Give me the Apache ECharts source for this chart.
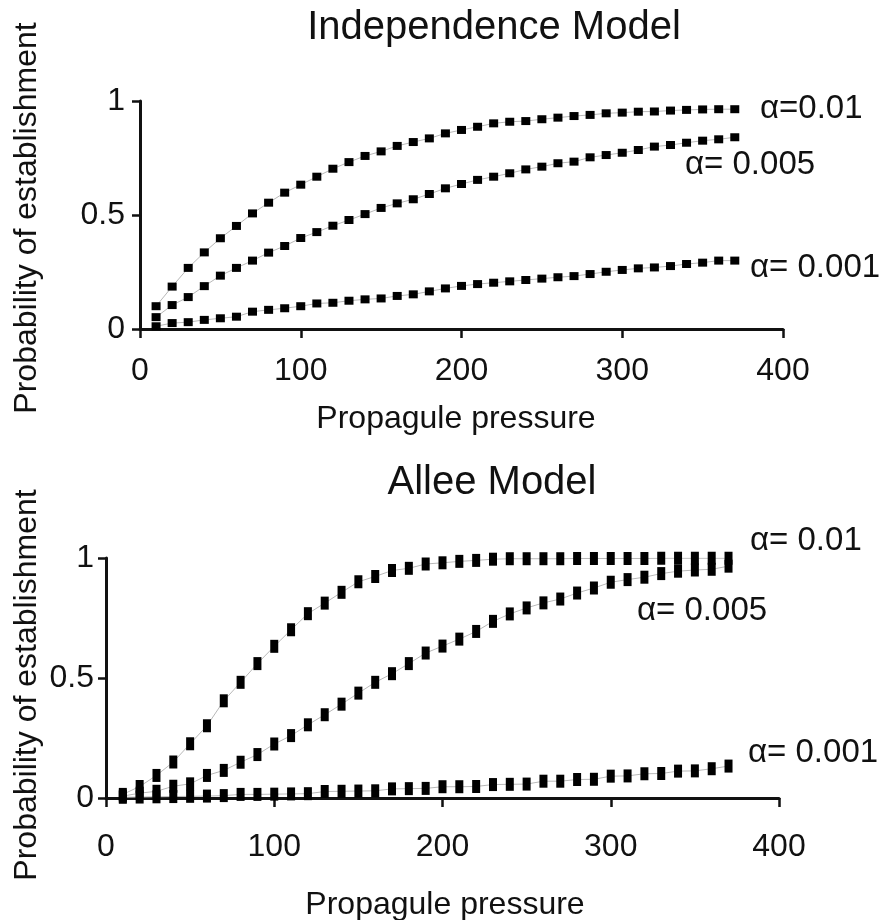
<!DOCTYPE html>
<html>
<head>
<meta charset="utf-8">
<script src="https://cdn.jsdelivr.net/npm/echarts@6/dist/echarts.min.js"></script>
<style>
  html, body { margin: 0; padding: 0; background: #fff; }
  #chart { width: 884px; height: 920px; }
</style>
</head>
<body>
<div id="chart"></div>
<script>
// propagule pressure (x) shared by every series
const pressure = [10, 20, 30, 40, 50, 60, 70, 80, 90, 100, 110, 120, 130, 140, 150, 160, 170, 180, 190,
  200, 210, 220, 230, 240, 250, 260, 270, 280, 290, 300, 310, 320, 330, 340, 350, 360, 370]

// Independence model
const indep01 = [0.10, 0.186, 0.268, 0.336, 0.398, 0.452, 0.507, 0.554, 0.598, 0.633, 0.668, 0.703, 0.732,
  0.759, 0.779, 0.803, 0.82, 0.836, 0.858, 0.873, 0.887, 0.902, 0.909, 0.912, 0.92, 0.927, 0.934, 0.939,
  0.946, 0.949, 0.953, 0.954, 0.958, 0.961, 0.963, 0.964, 0.964]
const indep005 = [0.052, 0.105, 0.14, 0.188, 0.234, 0.268, 0.30, 0.335, 0.364, 0.399, 0.425, 0.453, 0.478,
  0.504, 0.531, 0.551, 0.569, 0.592, 0.617, 0.636, 0.654, 0.668, 0.683, 0.70, 0.712, 0.727, 0.734, 0.753,
  0.763, 0.773, 0.785, 0.80, 0.807, 0.817, 0.826, 0.832, 0.841]
const indep001 = [0.012, 0.026, 0.03, 0.04, 0.047, 0.054, 0.076, 0.084, 0.091, 0.10, 0.112, 0.115, 0.124,
  0.13, 0.134, 0.145, 0.152, 0.165, 0.178, 0.189, 0.197, 0.203, 0.209, 0.215, 0.221, 0.227, 0.232, 0.241,
  0.251, 0.259, 0.266, 0.27, 0.276, 0.285, 0.291, 0.30, 0.30]

// Allee model
const allee01 = [0.015, 0.048, 0.094, 0.15, 0.226, 0.301, 0.405, 0.482, 0.56, 0.632, 0.701, 0.768, 0.812,
  0.857, 0.901, 0.923, 0.948, 0.957, 0.975, 0.98, 0.986, 0.99, 0.995, 0.997, 0.997, 0.997, 0.997, 0.998,
  0.998, 0.998, 0.998, 0.998, 0.999, 0.999, 0.999, 0.999, 0.999]
const allee005 = [0.008, 0.02, 0.028, 0.049, 0.059, 0.094, 0.115, 0.149, 0.181, 0.225, 0.26, 0.305, 0.347,
  0.391, 0.437, 0.482, 0.518, 0.56, 0.604, 0.633, 0.662, 0.694, 0.736, 0.767, 0.792, 0.813, 0.829, 0.854,
  0.875, 0.899, 0.91, 0.92, 0.935, 0.945, 0.95, 0.953, 0.966]
const allee001 = [0.003, 0.004, 0.005, 0.006, 0.007, 0.008, 0.01, 0.015, 0.015, 0.016, 0.017, 0.018, 0.027,
  0.028, 0.029, 0.03, 0.038, 0.039, 0.04, 0.047, 0.047, 0.048, 0.056, 0.057, 0.058, 0.07, 0.07, 0.077,
  0.078, 0.091, 0.092, 0.101, 0.102, 0.112, 0.113, 0.122, 0.133]

const xTicks = { min: 0, max: 400, interval: 100 }
const yTicks = { min: 0, max: 1, interval: 0.5 }

const FONT = '"Liberation Sans", Arial, Helvetica, sans-serif'
const INK = '#111'

const pairs = (ys) => pressure.map((x, i) => [x, ys[i]])

function xAxisOf(gridIndex, margin) {
  return {
    type: 'value',
    gridIndex,
    ...xTicks,
    axisLine: { onZero: false, lineStyle: { color: INK, width: 3 } },
    axisTick: { length: 9, lineStyle: { color: INK, width: 2.5 } },
    axisLabel: { margin, fontSize: 32, fontFamily: FONT, color: INK },
    splitLine: { show: false },
  }
}

function yAxisOf(gridIndex, margin) {
  return {
    type: 'value',
    gridIndex,
    ...yTicks,
    axisLine: { show: true, onZero: false, lineStyle: { color: INK, width: 3 } },
    axisTick: { show: true, length: 8, lineStyle: { color: INK, width: 2.5 } },
    axisLabel: { margin, fontSize: 32, fontFamily: FONT, color: INK },
    splitLine: { show: false },
  }
}

function seriesOf(ys, gridIndex, size) {
  return {
    type: 'line',
    xAxisIndex: gridIndex,
    yAxisIndex: gridIndex,
    data: pairs(ys),
    symbol: 'rect',
    symbolSize: size,
    showAllSymbol: true,
    itemStyle: { color: '#000' },
    lineStyle: { color: '#b8b8b8', width: 1 },
    animation: false,
  }
}

function label(text, x, y, opts = {}) {
  const align = opts.align || 'left'
  return {
    type: 'text',
    x, y,
    rotation: opts.rotation || 0,
    style: {
      text,
      font: `${opts.size || 32}px ${FONT}`,
      fill: INK,
      textAlign: align,
      align,
      textVerticalAlign: 'middle',
      verticalAlign: 'middle',
    },
  }
}

const chart = echarts.init(document.getElementById('chart'), null, { renderer: 'canvas' })
chart.setOption({
  backgroundColor: '#fff',
  animation: false,
  grid: [
    { left: 140, right: 101, top: 101, height: 228 },
    { left: 106, right: 105, top: 558, height: 240 },
  ],
  xAxis: [xAxisOf(0, 26), xAxisOf(1, 33)],
  yAxis: [yAxisOf(0, 15), yAxisOf(1, 12)],
  series: [
    seriesOf(indep01, 0, [9, 8]),
    seriesOf(indep005, 0, [9, 8]),
    seriesOf(indep001, 0, [9, 8]),
    seriesOf(allee01, 1, [8, 13]),
    seriesOf(allee005, 1, [8, 13]),
    seriesOf(allee001, 1, [8, 13]),
  ],
  graphic: [
    label('Independence Model', 494, 28, { align: 'center', size: 40 }),
    label('Allee Model', 492, 483, { align: 'center', size: 40 }),
    label('Propagule pressure', 456, 419, { align: 'center' }),
    label('Propagule pressure', 445, 905, { align: 'center' }),
    label('Probability of establishment', 27, 218, { align: 'center', rotation: Math.PI / 2 }),
    label('Probability of establishment', 27, 685, { align: 'center', rotation: Math.PI / 2 }),
    // curve labels, top panel
    label('α=0.01', 760, 109, { size: 33 }),
    label('α= 0.005', 685, 165, { size: 33 }),
    label('α= 0.001', 750, 268, { size: 33 }),
    // curve labels, bottom panel
    label('α= 0.01', 750, 541, { size: 33 }),
    label('α= 0.005', 637, 611, { size: 33 }),
    label('α= 0.001', 748, 753, { size: 33 }),
  ],
})
</script>
</body>
</html>
